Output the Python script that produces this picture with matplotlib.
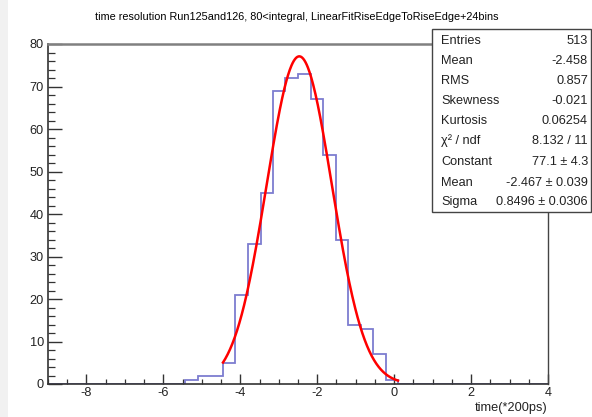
import numpy as np
import matplotlib
matplotlib.use("Agg")
import matplotlib.pyplot as plt
from matplotlib.patches import Rectangle
from matplotlib.ticker import MultipleLocator

plt.rcParams['font.family'] = ['Liberation Sans', 'DejaVu Sans']
plt.rcParams['axes.unicode_minus'] = False

# Histogram binning: 40 bins over [-9, 4]
bin_lo, bin_hi, n_bins = -9.0, 4.0, 40
counts = [0, 0, 0, 0, 0, 0, 0, 0, 0, 0,
          0, 1, 2, 2, 5, 21, 33, 45, 69, 72,
          73, 67, 54, 34, 14, 13, 7, 1, 0, 0,
          0, 0, 0, 0, 0, 0, 0, 0, 0, 0]

# Gaussian fit result and its range
fit_const, fit_mean, fit_sigma = 77.1, -2.467, 0.8496
fit_lo, fit_hi = -4.45, 0.10

# Statistics box rows
stat_labels = ["Entries", "Mean", "RMS", "Skewness", "Kurtosis",
               "\u03c7\u00b2 / ndf", "Constant", "Mean", "Sigma"]
stat_values = ["513", "-2.458", "0.857", "-0.021", "0.06254",
               "8.132 / 11", "77.1 \u00b1 4.3", "-2.467 \u00b1 0.039",
               "0.8496 \u00b1 0.0306"]

title = "time resolution Run125and126, 80<integral, LinearFitRiseEdgeToRiseEdge+24bins"
xlabel = "time(*200ps)"

W, H = 592, 417
fig = plt.figure(figsize=(W / 100, H / 100), dpi=100)
fig.patch.set_facecolor("white")

# faint grey strip on the left edge
fig.patches.append(Rectangle((0, 0), 8 / W, 1, transform=fig.transFigure,
                             facecolor="#f1f1f1", edgecolor="none", zorder=0))

ax_l, ax_r, ax_t, ax_b = 48, 548, 44, 384
ax = fig.add_axes([ax_l / W, 1 - ax_b / H, (ax_r - ax_l) / W, (ax_b - ax_t) / H])

edges = np.linspace(bin_lo, bin_hi, n_bins + 1)
ax.stairs(counts, edges, baseline=0, color="#5c5cc4", lw=1.3, alpha=0.8, zorder=2)

xf = np.linspace(fit_lo, fit_hi, 300)
yf = fit_const * np.exp(-0.5 * ((xf - fit_mean) / fit_sigma) ** 2)
ax.plot(xf, yf, color="#ff0000", lw=1.8, zorder=3)

ax.set_xlim(bin_lo, bin_hi)
ax.set_ylim(0, 80)
ax.xaxis.set_major_locator(MultipleLocator(2))
ax.xaxis.set_minor_locator(MultipleLocator(0.5))
ax.yaxis.set_major_locator(MultipleLocator(10))
ax.yaxis.set_minor_locator(MultipleLocator(2))

ax.tick_params(axis="x", which="major", direction="in", length=7.5, width=1.0,
               color="#333333", labelsize=9.2, pad=2.5)
ax.tick_params(axis="x", which="minor", direction="in", length=3.8, width=0.9,
               color="#333333")
ax.tick_params(axis="y", which="major", direction="in", length=10, width=1.0,
               color="#333333", labelsize=9.2, pad=3)
ax.tick_params(axis="y", which="minor", direction="in", length=5, width=0.9,
               color="#333333")
for lbl in ax.get_xticklabels() + ax.get_yticklabels():
    lbl.set_color("#222222")

for s in ("left", "bottom"):
    ax.spines[s].set_color("#333333")
    ax.spines[s].set_linewidth(1.2)
ax.spines["right"].set_color("#444444")
ax.spines["right"].set_linewidth(1.0)
ax.spines["top"].set_color("#808080")
ax.spines["top"].set_linewidth(1.8)

fig.text(297 / W, 1 - 17 / H, title, ha="center", va="center", fontsize=7.8)
fig.text(ax_r / W, 1 - 408 / H, xlabel, ha="right", va="center", fontsize=9.2,
         color="#222222")

# statistics box
bx0, bx1, by0, by1 = 432, 591, 29, 212
fig.patches.append(Rectangle((bx0 / W, 1 - by1 / H), (bx1 - bx0) / W, (by1 - by0) / H,
                             transform=fig.transFigure, facecolor="white",
                             edgecolor="#444444", lw=1.0, zorder=5))
row_y = [40.7, 61, 81, 101, 121, 140.7, 161.7, 182.7, 201.7]
for lab, val, y in zip(stat_labels, stat_values, row_y):
    fig.text(441 / W, 1 - y / H, lab, ha="left", va="center", fontsize=9.2,
             color="#222222", zorder=6)
    fig.text(588 / W, 1 - y / H, val, ha="right", va="center", fontsize=9.2,
             color="#222222", zorder=6)

fig.savefig("out.png", dpi=100)
